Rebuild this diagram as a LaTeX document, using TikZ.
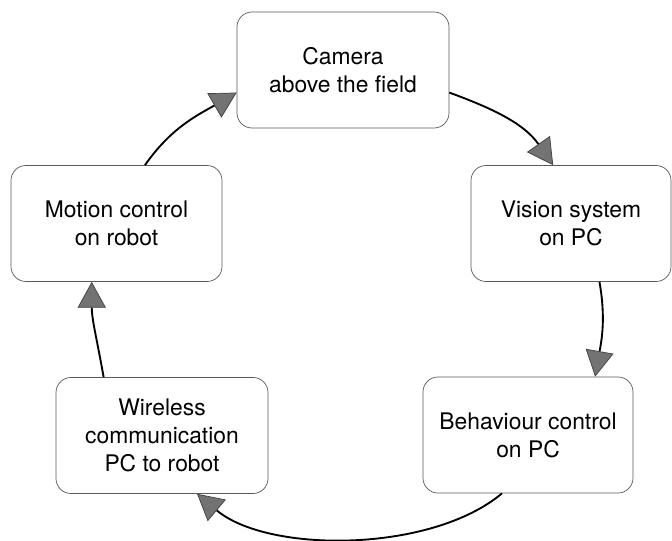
\documentclass[tikz,border=0pt]{standalone}
\usepackage{fontspec}
\setmainfont{TeX Gyre Heros}
\usetikzlibrary{arrows.meta}
\begin{document}
\begin{tikzpicture}[x = 0.03cm, y = -0.03cm,
  stage/.style = {draw = black!65, line width = 0.6pt, fill = white, rounded corners = 0.45cm,
    minimum width = 6.36cm, minimum height = 3.48cm, align = center, inner sep = 0pt,
    font = \fontsize{19.5}{23.8}\selectfont},
  flow/.style = {line width = 1.6pt, -{Triangle[length=22pt, width=24pt, fill=black!55, color=black!75, line width=0.6pt]}}]
\useasboundingbox (0,0) rectangle (672,541);
\node [stage] (cam) at (343,70) {Camera\\above the field};
\node [stage, minimum width = 6cm] (vis) at (571,223.5) {Vision system\\on PC};
\node [stage, minimum width = 6.3cm] (beh) at (528,435) {Behaviour control\\on PC};
\node [stage] (wir) at (162,435.5) {Wireless\\communication\\PC to robot};
\node [stage, minimum width = 6.33cm] (mot) at (116.5,223.5) {Motion control\\on robot};
% the loop
\draw [flow] (cam.-12) to [out=-20, in=125] (vis.107);
\draw [flow] (vis.-64) to [out=-80, in=80] (beh.41);
\draw [flow] (beh.-114) to [out=-140, in=-40, looseness=0.78] (wir.-59);
\draw [flow] (wir.135) to [out=100, in=-90] (mot.-113);
\draw [flow] (mot.64) to [out=55, in=-150] (cam.192);
\end{tikzpicture}
\end{document}
